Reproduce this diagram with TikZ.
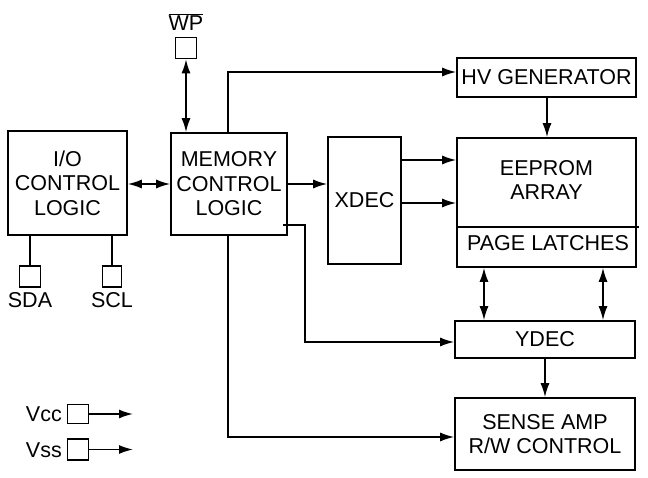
\documentclass[tikz,border=0pt]{standalone}
\usepackage{fontspec}
\setmainfont{Liberation Sans}
\usetikzlibrary{arrows.meta}
\begin{document}
\begin{tikzpicture}[x=1pt,y=-1pt,
  blk/.style={draw,line width=1.6pt,rectangle,inner sep=0pt,align=center,
    font=\fontsize{21.5}{24.5}\selectfont},
  pin/.style={draw,line width=1.6pt,rectangle,inner sep=0pt,minimum width=21pt,minimum height=21pt},
  lbl/.style={inner sep=0pt,align=center,font=\fontsize{21.5}{24.5}\selectfont},
  wire/.style={line width=1.6pt},
  arr/.style={wire,-{Latex[length=14pt,width=9pt]}},
  darr/.style={wire,{Latex[length=14pt,width=9pt]}-{Latex[length=14pt,width=9pt]}}]
\useasboundingbox (0,0) rectangle (648,478);
% blocks
\node[blk,minimum width=119pt,minimum height=104pt] (io) at (67.5,183) {I/O\\CONTROL\\LOGIC};
\node[blk,minimum width=116pt,minimum height=102pt] (mem) at (229,184) {MEMORY\\CONTROL\\LOGIC};
\node[blk,minimum width=179pt,minimum height=39pt] (hv) at (546.5,77.5) {HV GENERATOR};
\node[blk,minimum width=179pt,minimum height=129pt] (ee) at (546.5,202.5) {};
\node[lbl] (eet) at (546.5,180) {EEPROM\\ARRAY};
\node[lbl] (pl) at (548,243) {PAGE LATCHES};
\node[blk,minimum width=73pt,minimum height=127pt] (xdec) at (364.5,200.5) {XDEC};
\node[blk,minimum width=180pt,minimum height=37pt] (ydec) at (545,339.5) {YDEC};
\node[blk,minimum width=180pt,minimum height=72pt] (sense) at (545,434) {SENSE AMP\\R/W CONTROL};
% pins
\node[pin] (wp) at (186,48) {};
\node[lbl] (wpt) at (186,22) {$\overline{\mbox{WP}}$};
\node[pin,minimum width=21pt] (sda) at (30,276.5) {};
\node[lbl,anchor=north] (sdat) at (30,292) {SDA};
\node[pin,minimum width=19pt] (scl) at (112,276.5) {};
\node[lbl,anchor=north] (sclt) at (112,292) {SCL};
\node[pin,minimum height=19pt] (vcc) at (78,414) {};
\node[lbl,anchor=east] (vcct) at (62,414) {Vcc};
\node[pin] (vss) at (78,449.5) {};
\node[lbl,anchor=east] (vsst) at (62,450) {Vss};
\coordinate (vcce) at (133,414);
\coordinate (vsse) at (133,449.5);
% divider
\draw[wire] (ee.west |- 0,227) -- (639,227);
% connectors
\draw[darr] (wp.south) -- (wp.south |- mem.north);
\draw[darr] (io.east |- 0,184) -- (mem.west |- 0,184);
\draw[arr] (228,133) -- (228,72) -- (hv.west |- 0,72);
\draw[arr] (hv.south -| 547,0) -- (ee.north -| 547,0);
\draw[arr] (mem.east |- 0,184) -- (xdec.west |- 0,184);
\draw[arr] (xdec.east |- 0,160) -- (ee.west |- 0,160);
\draw[arr] (xdec.east |- 0,203) -- (ee.west |- 0,203);
\draw[arr] (283,225) -- (305,225) -- (305,342) -- (ydec.west |- 0,342);
\draw[darr] (ee.south -| 484,0) -- (ydec.north -| 484,0);
\draw[darr] (ee.south -| 603,0) -- (ydec.north -| 603,0);
\draw[arr] (ydec.south) -- (sense.north);
\draw[arr] (mem.south -| 228,0) -- (228,437) -- (sense.west |- 0,437);
\draw[wire] (io.south -| 30,0) -- (sda.north);
\draw[wire] (io.south -| 112,0) -- (scl.north);
\draw[arr] (vcc.east) -- (vcce);
\draw[arr] (vss.east) -- (vsse);
\end{tikzpicture}
\end{document}
